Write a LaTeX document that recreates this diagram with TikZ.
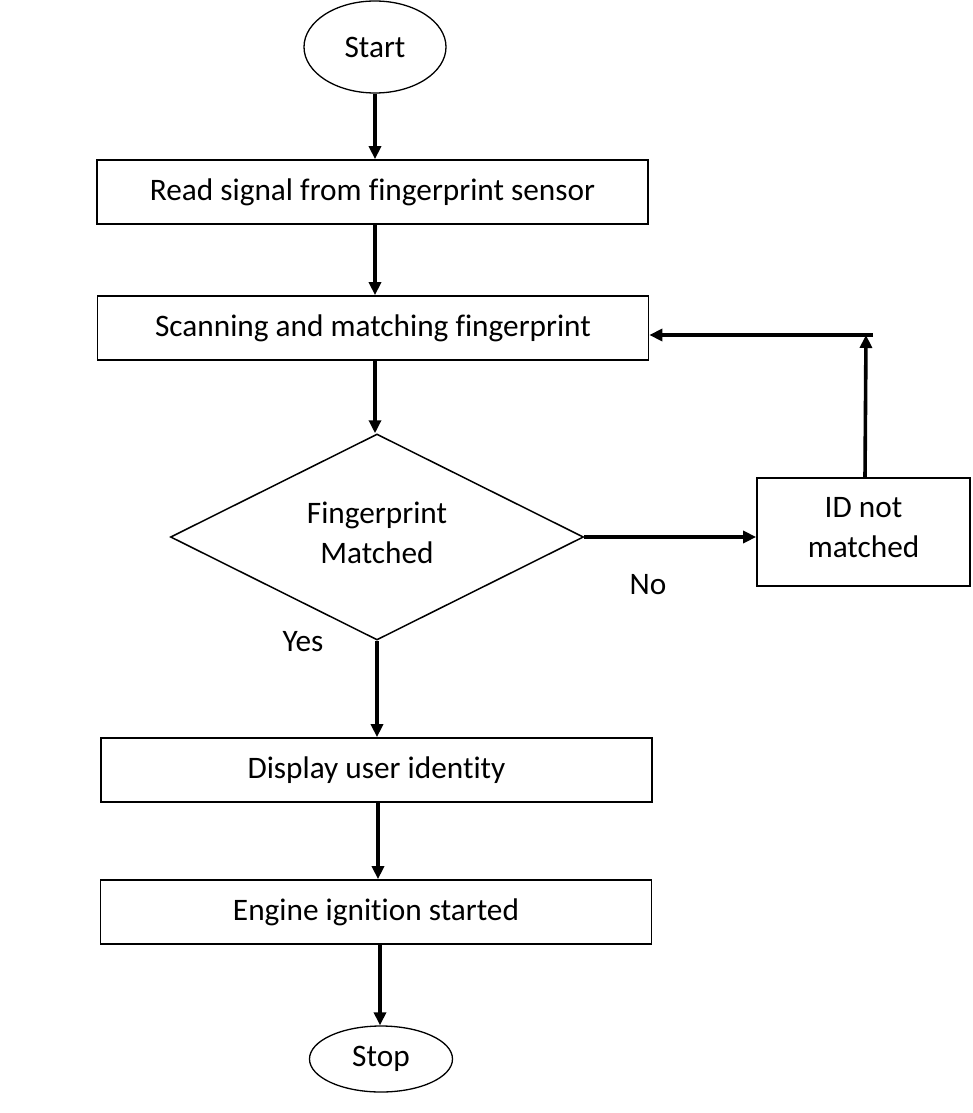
\documentclass[tikz,border=0pt]{standalone}
\usepackage{fontspec}
\setmainfont[Ligatures=CommonOff]{Carlito}
\usetikzlibrary{shapes.geometric,arrows.meta}
\begin{document}
\begin{tikzpicture}[x=1pt,y=-1pt,
  every node/.style={font=\fontsize{31.3}{39.5}\selectfont, inner sep=0pt},
  procbox/.style={draw, line width=1.7pt, minimum width=551pt, minimum height=64pt},
  termnode/.style={draw, ellipse, line width=1.3pt},
  decnode/.style={draw, diamond, line width=1.5pt, minimum width=413pt, minimum height=206pt, aspect=2},
  flow/.style={line width=3.6pt, -{Triangle[length=13pt,width=12pt]}}]
\useasboundingbox (0,0) rectangle (973,1113);
\node[termnode, minimum width=142pt, minimum height=92pt] (start) at (375,47) {Start};
\node[procbox] (read) at (372.5,192) {Read signal from fingerprint sensor};
\node[procbox] (scan) at (373,328) {Scanning and matching fingerprint};
\node[decnode] (dec) at (377,537) {};
\node[align=center] (dectext) at (377,533) {Fingerprint\\Matched};
\node[draw, line width=1.7pt, minimum width=213pt, minimum height=108pt] (id) at (863.5,532) {};
\node[align=center] (idtext) at (863.5,527.5) {ID not\\matched};
\node[procbox] (disp) at (376.5,770) {Display user identity};
\node[procbox] (eng) at (376,912) {Engine ignition started};
\node[termnode, minimum width=143pt, minimum height=66pt] (stop) at (381,1059) {Stop};
\node (no) at (648,585) {No};
\node (yes) at (303,642) {Yes};
\coordinate (corner) at (866,335);
\coordinate (cornerend) at (873,335);
\draw[flow] (start.south) -- (start.south |- read.north);
\draw[flow] (read.south -| start.south) -- (start.south |- scan.north);
\draw[flow] (scan.south -| start.south) -- (start.south |- dec.north);
\draw[flow] (dec.south) -- (dec.south |- disp.north);
\draw[flow] ([xshift=1.5pt]disp.south) -- ([xshift=1.5pt]disp.south |- eng.north);
\draw[flow] ([xshift=4pt]eng.south) -- ([xshift=4pt]eng.south |- stop.north);
\draw[flow] (dec.east) -- (dec.east -| id.west);
\draw[flow] ([xshift=1.5pt]id.north) -- (corner);
\draw[flow] (cornerend) -- (cornerend -| scan.east);
\end{tikzpicture}
\end{document}
